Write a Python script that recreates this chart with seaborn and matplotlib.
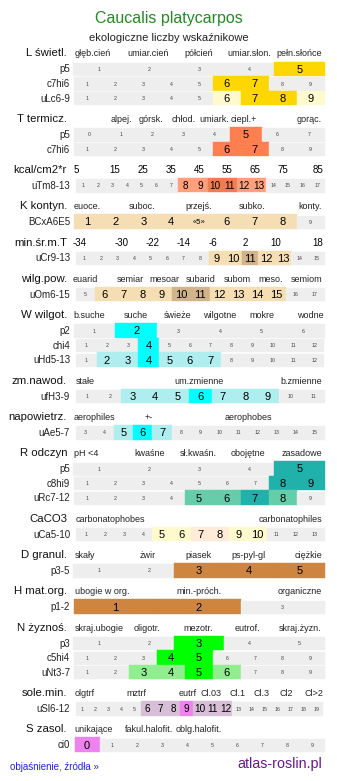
import matplotlib
matplotlib.use("Agg")
import matplotlib.pyplot as plt
import seaborn as sns

sns.set_theme(style="white")
plt.rcParams['font.family'] = ['Liberation Sans', 'DejaVu Sans']

# ---------------- data ----------------
title = "Caucalis platycarpos"
subtitle = "ekologiczne liczby wskaźnikowe"

section_names = ["L świetl.", "T termicz.", "kcal/cm2*r", "K kontyn.", "min.śr.m.T",
                 "wilg.pow.", "W wilgot.", "zm.nawod.", "napowietrz.", "R odczyn",
                 "CaCO3", "D granul.", "H mat.org.", "N żyznoś.", "sole.min.", "S zasol."]

section_headers = [
    ["głęb.cień", "umiar.cień", "półcień", "umiar.słon.", "pełn.słońce"],
    ["alpej.", "górsk.", "chłod.", "umiark.", "ciepl.+", "gorąc."],
    ["5", "15", "25", "35", "45", "55", "65", "75", "85"],
    ["euoce.", "suboc.", "przejś.", "subko.", "konty."],
    ["-34", "-30", "-22", "-14", "-6", "2", "10", "18"],
    ["euarid", "semiar", "mesoar", "subarid", "subom", "meso.", "semiom"],
    ["b.suche", "suche", "świeże", "wilgotne", "mokre", "wodne"],
    ["stałe", "um.zmienne", "b.zmienne"],
    ["aerophiles", "+-", "aerophobes"],
    ["pH <4", "kwaśne", "sł.kwaśn.", "obojętne", "zasadowe"],
    ["carbonatophobes", "carbonatophiles"],
    ["skały", "żwir", "piasek", "ps-pyl-gl", "ciężkie"],
    ["ubogie w org.", "min.-próch.", "organiczne"],
    ["skraj.ubogie", "oligotr.", "mezotr.", "eutrof.", "skraj.żyzn."],
    ["olgtrf", "mztrf", "eutrf", "Cl.03", "Cl.1", "Cl.3", "Cl2", "Cl>2"],
    ["unikające", "fakul.halofit.", "oblg.halofit."],
]
numeric_header_sections = [2, 4]

row_section = [0, 0, 0, 1, 1, 2, 3, 4, 5, 6, 6, 6, 7, 8, 9, 9, 9, 10, 11, 12, 13, 13, 13, 14, 15]
row_labels = ["p5", "c7hi6", "uLc6-9", "p5", "c7hi6", "uTm8-13", "BCxA6E5", "uCr9-13",
              "uOm6-15", "p2", "chi4", "uHd5-13", "ufH3-9", "uAe5-7", "p5", "c8hi9",
              "uRc7-12", "uCa5-10", "p3-5", "p1-2", "p3", "c5hi4", "uNt3-7", "uSl6-12", "ci0"]
row_first = [1, 1, 1, 0, 1, 1, 1, 1, 5, 1, 1, 1, 1, 3, 1, 1, 1, 1, 1, 1, 1, 1, 1, 1, 0]
row_last = [5, 9, 9, 7, 9, 17, 9, 15, 17, 6, 12, 12, 11, 15, 5, 9, 9, 13, 5, 3, 5, 9, 9, 19, 9]
row_strong = [[5], [6, 7], [7, 8], [5], [6, 7], [10, 11], [], [11], [10, 11], [2], [4], [4],
              [6], [6], [5], [8, 9], [7], [7, 8], [3, 4, 5], [1, 2], [3], [4, 5], [5], [9], [0]]
row_weak = [[], [], [6, 9], [], [], [8, 9, 12, 13], [1, 2, 3, 4, 5, 6, 7, 8], [9, 10, 12, 13],
            [6, 7, 8, 9, 12, 13, 14, 15], [], [], [2, 3, 5, 6, 7], [3, 4, 5, 7, 8, 9], [5, 7],
            [], [], [5, 6, 8], [5, 6, 9, 10], [], [], [], [], [3, 4, 6], [6, 7, 8, 10, 11, 12], []]
row_text_override = {6: {5: "«5»"}}

# ---------------- styles / layout ----------------
strong_colors = ["#FFD700", "#FF7F50", "#F37B4F", "#F5DEB3", "#D2B48C", "#D2B48C",
                 "#00FFFF", "#00FFFF", "#00FFFF", "#20B2AA", "#FFEBD7", "#CD853F",
                 "#CD853F", "#00FF00", "#EE82EE", "#EE82EE"]
weak_colors = ["#FFFACD", "#FFA07A", "#FFA07A", "#F5DEB3", "#F5DEB3", "#F5DEB3",
               "#AFEEEE", "#AFEEEE", "#AFEEEE", "#66CDAA", "#FFFACD", "#F5DEB3",
               "#F5DEB3", "#90EE90", "#D8BFD8", "#D8BFD8"]
grey = "#EEEEEE"

header_x = [
    [92.5, 148.5, 198.5, 249, 299.5],
    [121, 151, 184, 214.5, 243.5, 309],
    [76, 115, 143, 171, 199, 227, 255, 283, 318],
    [87, 141.7, 198.3, 252, 310],
    [80, 121.7, 152.7, 183.3, 213.3, 245.7, 276, 317.3],
    [85, 130, 164, 201, 237, 271, 307],
    [89.7, 135.8, 177.7, 220, 261.7, 310.7],
    [85, 199, 301],
    [94.7, 148.3, 248.8],
    [86.5, 149.2, 198.3, 248.3, 302],
    [110, 290.5],
    [85, 148, 198.3, 248.7, 308.3],
    [102.5, 199, 300],
    [99, 146.8, 198.5, 247.7, 299.7],
    [84.5, 136.3, 187.5, 211, 237.2, 261.7, 286, 313.5],
    [93.3, 148.7, 198.3],
]

W, H = 337, 781
fig = plt.figure(figsize=(W / 100, H / 100), dpi=100)
ax = fig.add_axes([0, 0, 1, 1])
ax.set_xlim(0, W)
ax.set_ylim(H, 0)
ax.axis("off")

ax.text(168.5, 19, title, ha="center", va="center", fontsize=11.5, color="#228B22")
ax.text(168.5, 38, subtitle, ha="center", va="center", fontsize=8, color="#222222")

first_header_y = 53.5
gap_top = 8.0
row_h = 14.6
gap_bottom = 13.7
cell_gap = 1.3

y = first_header_y
for s, name in enumerate(section_names):
    hy = y
    ax.text(67, hy, name, ha="right", va="center", fontsize=8.2, color="#111111")
    numeric = s in numeric_header_sections
    for lab, hx in zip(section_headers[s], header_x[s]):
        ax.text(hx, hy + 0.5, lab, ha="center", va="center",
                fontsize=7 if numeric else 6.5,
                color="#000000" if numeric else "#222222")
    rows = [r for r, rs in enumerate(row_section) if rs == s]
    top = hy + gap_top
    for r in rows:
        vals = list(range(row_first[r], row_last[r] + 1))
        n = len(vals)
        left = 73.5 if n <= 9 else (74.5 if n == 10 else 76)
        right = 323 if n >= 19 else 324.5
        cw = (right - left) / n
        xs, bottoms, heights, cols = [], [], [], []
        for i, v in enumerate(vals):
            cx = left + cw * (i + 0.5)
            if v in row_strong[r]:
                c = strong_colors[s]
                b, hh = top, row_h
            elif v in row_weak[r]:
                c = weak_colors[s]
                b, hh = top, row_h
            else:
                c = grey
                b, hh = top + cell_gap, row_h - cell_gap
            xs.append(cx)
            bottoms.append(b)
            heights.append(hh)
            cols.append(c)
        ax.bar(xs, heights, width=cw, bottom=bottoms, color=cols,
               edgecolor=cols, linewidth=0.3, align="center")
        ty = top + cell_gap + (row_h - cell_gap) / 2
        big_fs = 8 if n <= 15 else 7.2
        for i, v in enumerate(vals):
            cx = left + cw * (i + 0.5)
            txt = row_text_override.get(r, {}).get(v, str(v))
            if v in row_strong[r] or v in row_weak[r]:
                fs = 5.5 if txt != str(v) else big_fs
                ax.text(cx, ty + 0.3, txt, ha="center", va="center", fontsize=fs, color="#000000")
            else:
                ax.text(cx, ty, txt, ha="center", va="center", fontsize=3.8, color="#444444")
        ax.text(70, ty, row_labels[r], ha="right", va="center", fontsize=7, color="#222222")
        top += row_h
    y = top + gap_bottom

ax.text(10, 767, "objaśnienie, źródła »", ha="left", va="center", fontsize=7, color="#2323E6")
ax.text(322, 764, "atlas-roslin.pl", ha="right", va="center", fontsize=10.3, color="#6A168E")

fig.savefig("out.png", dpi=100, facecolor="white")
